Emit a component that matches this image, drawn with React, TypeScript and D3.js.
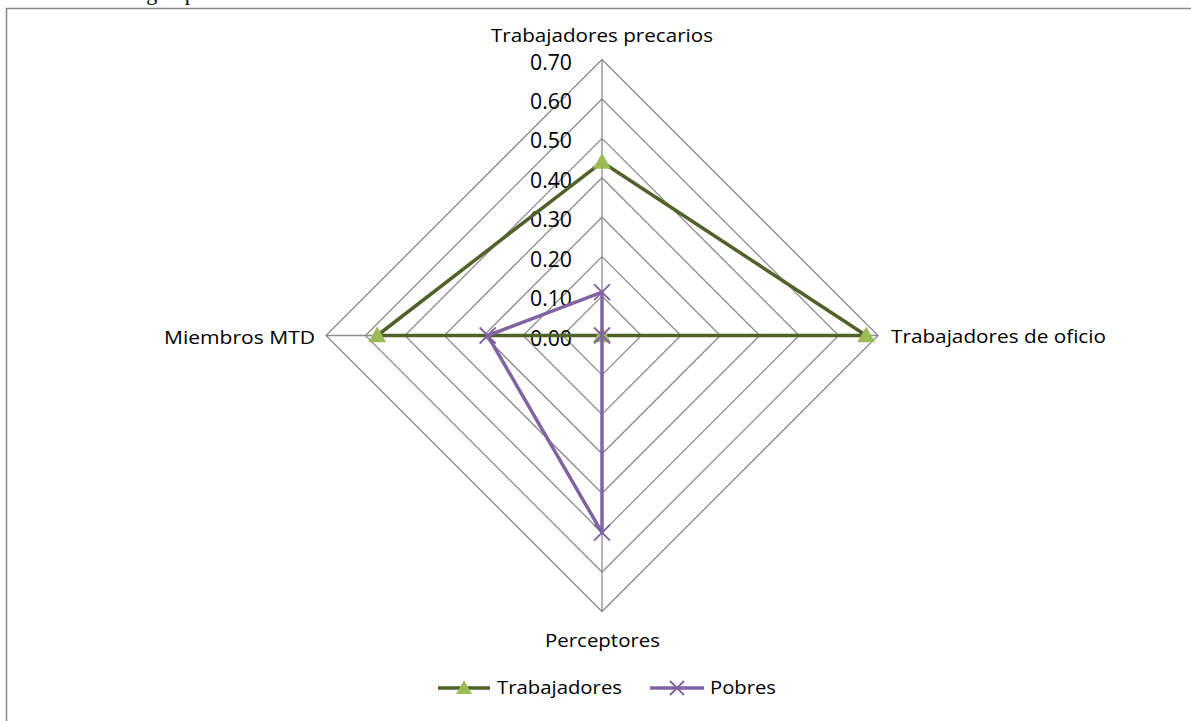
import React from "react";
import * as d3 from "d3";

const categories = ["Trabajadores precarios", "Trabajadores de oficio", "Perceptores", "Miembros MTD"];
const trabajadores = [0.44, 0.67, 0.0, 0.57];
const pobres = [0.11, 0.0, 0.5, 0.29];
const ticks = [0, 0.1, 0.2, 0.3, 0.4, 0.5, 0.6, 0.7];
const seriesNames = ["Trabajadores", "Pobres"];

const W = 1191, H = 721;
const cx = 602, cy = 335.5, R = 276;
const FONT = "'Open Sans', sans-serif";

export default function App() {
  const r = d3.scaleLinear().domain([0, 0.7]).range([0, R]);
  const angle = (i: number) => (i * 2 * Math.PI) / categories.length; // 0 = up, clockwise
  const pt = (i: number, v: number): [number, number] => [
    cx + r(v) * Math.sin(angle(i)),
    cy - r(v) * Math.cos(angle(i)),
  ];
  const line = d3.line<[number, number]>().curve(d3.curveLinearClosed);
  const gridGray = "#8c8c8c";
  const green = "#4f6228";
  const lightGreen = "#9bbb59";
  const purple = "#8064a2";

  const tri = (x: number, y: number, s = 9) =>
    `M${x},${y - s} L${x + s},${y + s * 0.75} L${x - s},${y + s * 0.75} Z`;
  const cross = (x: number, y: number, s = 8) =>
    `M${x - s},${y - s} L${x + s},${y + s} M${x - s},${y + s} L${x + s},${y - s}`;

  const labelPos = [
    { x: 491, y: 42, w: 222 },
    { x: 891, y: 343, w: 215 },
    { x: 545, y: 647, w: 115 },
    { x: 164, y: 344, w: 151 },
  ];

  return (
    <svg width={W} height={H} style={{ position: "absolute", left: 0, top: 0, background: "#fff" }}>
      <text x={18} y={0} fontFamily="'Liberation Serif', serif" fontSize={22} fill="#000">
        tres estratos según perfil social.
      </text>
      <rect x={6.5} y={8.5} width={W} height={H} fill="none" stroke="#888" strokeWidth={1.5} />
      {ticks.slice(1).map((t) => (
        <path
          key={t}
          d={line(categories.map((_, i) => pt(i, t)))!}
          fill="none"
          stroke={gridGray}
          strokeWidth={1.3}
        />
      ))}
      {categories.map((_, i) => {
        const [x, y] = pt(i, 0.7);
        return <line key={i} x1={cx} y1={cy} x2={x} y2={y} stroke={gridGray} strokeWidth={1.3} />;
      })}
      {ticks.map((t) => (
        <text
          key={t}
          x={572}
          y={cy - r(t) + 10}
          textAnchor="end"
          fontFamily={FONT}
          fontSize={21}
          fill="#000"
          textLength={42}
          lengthAdjust="spacingAndGlyphs"
        >
          {t.toFixed(2)}
        </text>
      ))}
      {categories.map((c, i) => (
        <text
          key={c}
          x={labelPos[i].x}
          y={labelPos[i].y}
          fontFamily={FONT}
          fontSize={19}
          fill="#000"
          textLength={labelPos[i].w}
          lengthAdjust="spacingAndGlyphs"
        >
          {c}
        </text>
      ))}
      <path
        d={line(trabajadores.map((v, i) => pt(i, v)))!}
        fill="none"
        stroke={green}
        strokeWidth={3.5}
        strokeLinejoin="round"
      />
      {trabajadores.map((v, i) => {
        const [x, y] = pt(i, v);
        return <path key={i} d={tri(x, y)} fill={lightGreen} />;
      })}
      <path
        d={line(pobres.map((v, i) => pt(i, v)))!}
        fill="none"
        stroke={purple}
        strokeWidth={3.5}
        strokeLinejoin="round"
      />
      {pobres.map((v, i) => {
        const [x, y] = pt(i, v);
        return <path key={i} d={cross(x, y)} stroke={purple} strokeWidth={1.8} fill="none" />;
      })}
      {/* legend */}
      <g>
        <line x1={438} y1={688} x2={490} y2={688} stroke={green} strokeWidth={3.5} />
        <path d={tri(464, 688, 8)} fill={lightGreen} />
        <text x={497} y={694} fontFamily={FONT} fontSize={19} fill="#000" textLength={125} lengthAdjust="spacingAndGlyphs">
          {seriesNames[0]}
        </text>
        <line x1={650} y1={688} x2={704} y2={688} stroke={purple} strokeWidth={3.5} />
        <path d={cross(677, 688, 7)} stroke={purple} strokeWidth={1.8} fill="none" />
        <text x={710} y={694} fontFamily={FONT} fontSize={19} fill="#000" textLength={66} lengthAdjust="spacingAndGlyphs">
          {seriesNames[1]}
        </text>
      </g>
    </svg>
  );
}
